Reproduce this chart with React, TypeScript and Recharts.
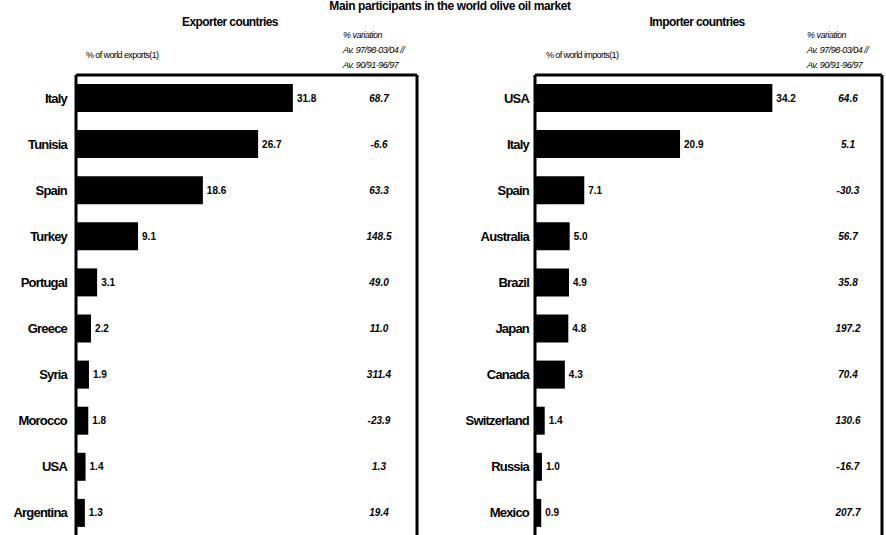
import React from "react";
import {
  Bar,
  BarChart,
  LabelList,
  ReferenceLine,
  XAxis,
  YAxis,
} from "recharts";

const exporterCountries = ["Italy", "Tunisia", "Spain", "Turkey", "Portugal", "Greece", "Syria", "Morocco", "USA", "Argentina"];
const exporterShare = [31.8, 26.7, 18.6, 9.1, 3.1, 2.2, 1.9, 1.8, 1.4, 1.3];
const exporterVariation = [68.7, -6.6, 63.3, 148.5, 49.0, 11.0, 311.4, -23.9, 1.3, 19.4];

const importerCountries = ["USA", "Italy", "Spain", "Australia", "Brazil", "Japan", "Canada", "Switzerland", "Russia", "Mexico"];
const importerShare = [34.2, 20.9, 7.1, 5.0, 4.9, 4.8, 4.3, 1.4, 1.0, 0.9];
const importerVariation = [64.6, 5.1, -30.3, 56.7, 35.8, 197.2, 70.4, 130.6, -16.7, 207.7];

const shareTicks = [10, 20, 30, 40];

const FONT = "'Liberation Sans', Arial, sans-serif";

const exporters = exporterCountries.map((name, i) => ({
  name,
  share: exporterShare[i],
  variation: exporterVariation[i],
}));
const importers = importerCountries.map((name, i) => ({
  name,
  share: importerShare[i],
  variation: importerVariation[i],
}));

function CountryTick({ x, y, payload, gap }: any) {
  return (
    <text
      x={x - gap}
      y={y}
      textAnchor="end"
      dominantBaseline="central"
      fontFamily={FONT}
      fontWeight="bold"
      fontSize={13}
      letterSpacing={-0.8}
      fill="#000"
    >
      {payload.value}
    </text>
  );
}

function Panel({
  data,
  left,
  axisWidth,
  rightMargin,
  tickGap,
  varColumn,
}: {
  data: typeof exporters;
  left: number;
  axisWidth: number;
  rightMargin: number;
  tickGap: number;
  varColumn: number;
}) {
  return (
    <div style={{ position: "absolute", left, top: 0 }}>
      <BarChart
        width={443}
        height={536}
        data={data}
        layout="vertical"
        margin={{ top: 75, right: rightMargin, bottom: 0, left: 0 }}
      >
        <XAxis
          type="number"
          orientation="top"
          domain={[0, 50]}
          ticks={shareTicks}
          height={1}
          mirror
          tick={false}
          tickSize={4}
          axisLine={{ stroke: "#000", strokeWidth: 3 }}
          tickLine={{ stroke: "#000", strokeWidth: 2 }}
        />
        <YAxis
          type="category"
          dataKey="name"
          width={axisWidth}
          tickLine={false}
          tickSize={0}
          tickMargin={0}
          axisLine={{ stroke: "#000", strokeWidth: 3 }}
          tick={<CountryTick gap={tickGap} />}
          interval={0}
        />
        <ReferenceLine x={50} stroke="#000" strokeWidth={3} />
        <Bar dataKey="share" fill="#000" barSize={28} isAnimationActive={false}>
          <LabelList
            dataKey="share"
            position="right"
            offset={4}
            formatter={(v: any) => Number(v).toFixed(1)}
            style={{ fontFamily: FONT, fontSize: 10, fontWeight: "bold", fill: "#000" }}
          />
          <LabelList
            dataKey="variation"
            content={(props: any) => {
              const vb = props.viewBox || props;
              const cy = vb.y + vb.height / 2;
              return (
                <text
                  x={axisWidth + varColumn}
                  y={cy}
                  textAnchor="middle"
                  dominantBaseline="central"
                  fontFamily={FONT}
                  fontSize={10}
                  fontWeight="bold"
                  fontStyle="italic"
                  fill="#000"
                >
                  {Number(props.value).toFixed(1)}
                </text>
              );
            }}
          />
        </Bar>
      </BarChart>
    </div>
  );
}

const headStyle = { fontFamily: FONT, fill: "#000" };

export default function App() {
  return (
    <div
      style={{
        position: "fixed",
        left: 0,
        top: 0,
        width: 886,
        height: 535,
        overflow: "hidden",
        background: "#fff",
      }}
    >
      <Panel data={exporters} left={0} axisWidth={76} rightMargin={26} tickGap={9} varColumn={303} />
      <Panel data={importers} left={443} axisWidth={92} rightMargin={4} tickGap={6} varColumn={313} />
      <svg
        width={886}
        height={535}
        style={{ position: "absolute", left: 0, top: 0, pointerEvents: "none" }}
      >
        <text x={450} y={10} textAnchor="middle" fontSize={12} fontWeight="bold" letterSpacing={-0.4} {...headStyle}>
          Main participants in the world olive oil market
        </text>
        <text x={230} y={26} textAnchor="middle" fontSize={12} fontWeight="bold" letterSpacing={-0.6} {...headStyle}>
          Exporter countries
        </text>
        <text x={697} y={26} textAnchor="middle" fontSize={12} fontWeight="bold" letterSpacing={-0.6} {...headStyle}>
          Importer countries
        </text>
        <text x={86} y={58} fontSize={9} letterSpacing={-0.6} {...headStyle}>
          % of world exports(1)
        </text>
        <text x={546} y={58} fontSize={9} letterSpacing={-0.6} {...headStyle}>
          % of world imports(1)
        </text>
        <g fontSize={9} fontStyle="italic" letterSpacing={-0.5} {...headStyle}>
          <text x={343} y={38}>% variation</text>
          <text x={343} y={53}>Av. 97/98-03/04 //</text>
          <text x={343} y={68}>Av. 90/91-96/97</text>
          <text x={807} y={38}>% variation</text>
          <text x={807} y={53}>Av. 97/98-03/04 //</text>
          <text x={807} y={68}>Av. 90/91-96/97</text>
        </g>
      </svg>
    </div>
  );
}
